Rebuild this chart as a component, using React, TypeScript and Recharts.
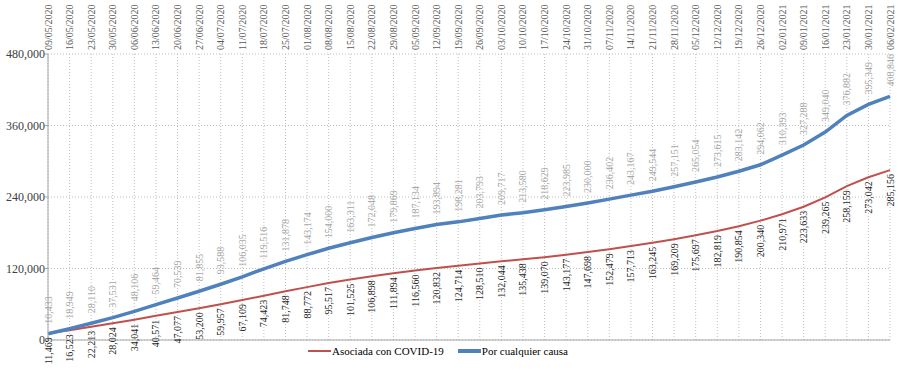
import React from 'react';
import {
  LineChart,
  Line,
  XAxis,
  YAxis,
  CartesianGrid,
  Legend,
  LabelList,
  ReferenceLine,
} from 'recharts';

// Weekly reporting dates (dd/mm/yyyy)
const dates = [
  '09/05/2020', '16/05/2020', '23/05/2020', '30/05/2020', '06/06/2020',
  '13/06/2020', '20/06/2020', '27/06/2020', '04/07/2020', '11/07/2020',
  '18/07/2020', '25/07/2020', '01/08/2020', '08/08/2020', '15/08/2020',
  '22/08/2020', '29/08/2020', '05/09/2020', '12/09/2020', '19/09/2020',
  '26/09/2020', '03/10/2020', '10/10/2020', '17/10/2020', '24/10/2020',
  '31/10/2020', '07/11/2020', '14/11/2020', '21/11/2020', '28/11/2020',
  '05/12/2020', '12/12/2020', '19/12/2020', '26/12/2020', '02/01/2021',
  '09/01/2021', '16/01/2021', '23/01/2021', '30/01/2021', '06/02/2021',
];

// Cumulative excess deaths associated with COVID-19
const covidValues = [
  11469, 16523, 22213, 28024, 34041, 40571, 47077, 53200, 59957, 67109,
  74423, 81748, 88772, 95517, 101525, 106898, 111894, 116560, 120832, 124714,
  128510, 132044, 135438, 139070, 143177, 147698, 152479, 157713, 163245, 169209,
  175697, 182819, 190854, 200340, 210971, 223633, 239265, 258159, 273042, 285156,
];

// Cumulative excess deaths from any cause
const anyCauseValues = [
  10433, 18949, 28110, 37531, 48106, 59464, 70539, 81855, 93588, 106035,
  119516, 131878, 143174, 154000, 163311, 172048, 179869, 187134, 193894, 198281,
  203793, 209717, 213580, 218629, 223985, 230000, 236402, 243167, 249544, 257151,
  265054, 273615, 283142, 294062, 310393, 327288, 349040, 376882, 395349, 408846,
];

const yTicks = [0, 120000, 240000, 360000, 480000];

const seriesNames = {
  covid: 'Asociada con COVID-19',
  any: 'Por cualquier causa',
};

const RED = '#C0504D';
const BLUE = '#4F81BD';
const FONT = 'Liberation Serif, Tinos, DejaVu Serif, serif';

const data = dates.map((date, i) => ({
  date,
  covid: covidValues[i],
  any: anyCauseValues[i],
}));

const fmt = (v: number) => v.toLocaleString('en-US');

// Vertical date tick above the plot area
const DateTick = (props: any) => {
  const { x, y, payload } = props;
  return (
    <text
      transform={`translate(${x},${y}) rotate(-90)`}
      textAnchor="start"
      dy="0.35em"
      fontSize={10}
      style={{ fontFamily: FONT }}
      fill="#595959"
    >
      {payload.value}
    </text>
  );
};

// Value label drawn below the red line
const CovidLabel = (props: any) => {
  const { x, y, value } = props;
  return (
    <text
      transform={`translate(${x},${y}) rotate(-90)`}
      x={-4}
      textAnchor="end"
      dy="0.35em"
      fontSize={10}
      style={{ fontFamily: FONT }}
      fill="#262626"
    >
      {fmt(value)}
    </text>
  );
};

// Value label drawn above the blue line
const AnyLabel = (props: any) => {
  const { x, y, value } = props;
  return (
    <text
      transform={`translate(${x},${y}) rotate(-90)`}
      x={10}
      textAnchor="start"
      dy="0.35em"
      fontSize={10}
      style={{ fontFamily: FONT }}
      fill="#a6a6a6"
    >
      {fmt(value)}
    </text>
  );
};

const LegendContent = () => (
  <div
    style={{
      display: 'flex',
      alignItems: 'center',
      paddingLeft: 308,
      height: 22,
      fontFamily: FONT,
      fontSize: 11,
      color: '#000',
    }}
  >
    <span style={{ display: 'inline-block', width: 23, height: 2, background: RED }} />
    <span style={{ marginLeft: 1 }}>{seriesNames.covid}</span>
    <span
      style={{ display: 'inline-block', width: 23, height: 4, background: BLUE, marginLeft: 14 }}
    />
    <span style={{ marginLeft: 1 }}>{seriesNames.any}</span>
  </div>
);

export default function App() {
  return (
    <div style={{ width: 898, height: 372, background: '#fff', fontFamily: FONT }}>
      <style>{'body{margin:0;}'}</style>
      <LineChart
        width={898}
        height={372}
        data={data}
        margin={{ top: 4, right: 8, bottom: 10, left: 0 }}
      >
        <CartesianGrid stroke="#bfbfbf" strokeDasharray="1 2" vertical horizontal />
        <XAxis
          dataKey="date"
          orientation="top"
          height={50}
          interval={0}
          axisLine={false}
          tickLine={false}
          tickSize={4}
          tickMargin={0}
          tick={<DateTick />}
        />
        <YAxis
          width={48}
          domain={[0, 480000]}
          ticks={yTicks}
          tickFormatter={fmt}
          axisLine={{ stroke: '#a6a6a6' }}
          tickLine={{ stroke: '#a6a6a6' }}
          tickSize={3}
          tickMargin={0}
          tick={{ fontSize: 12, fill: '#404040', style: { fontFamily: FONT } }}
        />
        <ReferenceLine y={0} stroke="#a6a6a6" />
        <Legend
          verticalAlign="bottom"
          height={22}
          wrapperStyle={{ left: 0, width: 898 }}
          content={<LegendContent />}
        />
        <Line
          type="linear"
          dataKey="covid"
          name={seriesNames.covid}
          stroke={RED}
          strokeWidth={2}
          dot={false}
          isAnimationActive={false}
        >
          <LabelList dataKey="covid" content={<CovidLabel />} />
        </Line>
        <Line
          type="linear"
          dataKey="any"
          name={seriesNames.any}
          stroke={BLUE}
          strokeWidth={3.5}
          dot={false}
          isAnimationActive={false}
        >
          <LabelList dataKey="any" content={<AnyLabel />} />
        </Line>
      </LineChart>
    </div>
  );
}
